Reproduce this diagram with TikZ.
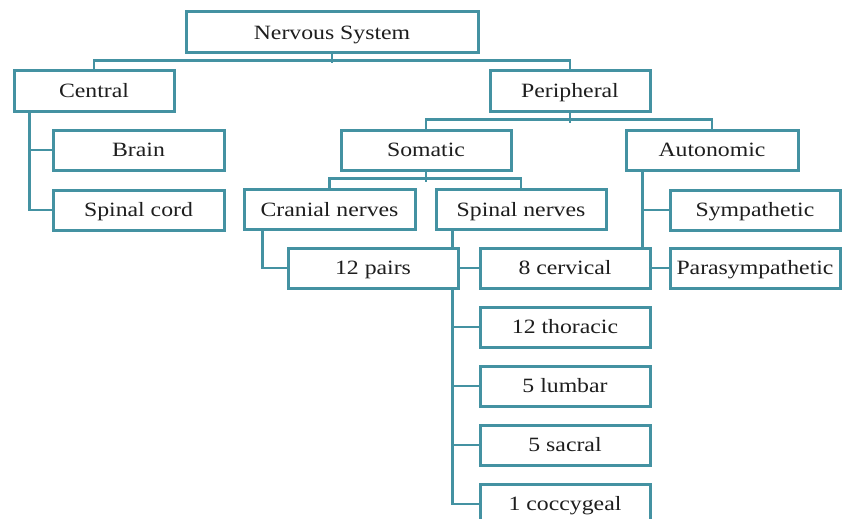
\documentclass[tikz,border=0pt]{standalone}
\usepackage{fontspec}
\setmainfont[FakeStretch=1.17]{Liberation Serif}
\usetikzlibrary{backgrounds,calc}
\definecolor{boxline}{HTML}{4492A2}
\definecolor{txt}{HTML}{1E1E1E}
\tikzset{
  x=1pt, y=1pt,
  nbox/.style={draw=boxline, line width=3pt, fill=white, text=txt,
    minimum width=170pt, minimum height=40pt, inner sep=0pt,
    text height=17.7pt, text depth=4.5pt,
    font=\fontsize{20.3}{23}\selectfont},
  link/.style={draw=boxline, line width=2.8pt}
}
\begin{document}
\begin{tikzpicture}
\clip (0,0) rectangle (849,-519);
\node[nbox, minimum width=292pt, minimum height=41pt] (ns) at (332,-32.5) {Nervous System};
\node[nbox, minimum width=160pt] (central) at (94,-91) {Central};
\node[nbox, minimum width=160pt] (periph) at (570,-91) {Peripheral};
\node[nbox, minimum width=171pt] (brain) at (138.5,-150) {Brain};
\node[nbox, minimum width=171pt] (cord) at (138.5,-210) {Spinal cord};
\node[nbox] (somatic) at (426,-150) {Somatic};
\node[nbox, minimum width=172pt] (auto) at (712,-150) {Autonomic};
\node[nbox, minimum width=171pt] (cranial) at (329.5,-209.5) {Cranial nerves};
\node[nbox] (spinal) at (521,-209.5) {Spinal nerves};
\node[nbox] (symp) at (755,-210) {Sympathetic};
\node[nbox] (pairs) at (373,-268) {12 pairs};
\node[nbox] (cerv) at (565,-268) {8 cervical};
\node[nbox] (para) at (755,-268) {Parasympathetic};
\node[nbox] (thor) at (565,-327) {12 thoracic};
\node[nbox] (lumb) at (565,-386) {5 lumbar};
\node[nbox] (sacr) at (565,-445) {5 sacral};
\node[nbox] (cocc) at (565,-504) {1 coccygeal};
\begin{pgfonlayer}{background}
  % level 1
  \draw[link] (ns.south) -- ++(0,-9);
  \draw[link] (central.north) -- ++(0,9) -| (periph.north);
  % central
  \draw[link] ($(central.south west)+(17,0)$) |- (brain.west);
  \draw[link] ($(central.south west)+(17,0)$) |- (cord.west);
  % peripheral
  \draw[link] (periph.south) -- ++(0,-10);
  \draw[link] (somatic.north) -- ++(0,9) -| (auto.north);
  % somatic
  \draw[link] (somatic.south) -- ++(0,-10);
  \draw[link] (cranial.north) -- ++(0,9.5) -| (spinal.north);
  % cranial
  \draw[link] ($(cranial.south west)+(20,0)$) |- (pairs.west);
  % spinal nerves
  \coordinate (st) at ($(spinal.south west)+(18,0)$);
  \draw[link] (st) |- (cerv.west);
  \draw[link] (st) |- (thor.west);
  \draw[link] (st) |- (lumb.west);
  \draw[link] (st) |- (sacr.west);
  \draw[link] (st) |- (cocc.west);
  % autonomic
  \coordinate (at) at ($(auto.south west)+(18,0)$);
  \draw[link] (at) |- (symp.west);
  \draw[link] (at) |- (para.west);
\end{pgfonlayer}
\end{tikzpicture}
\end{document}
